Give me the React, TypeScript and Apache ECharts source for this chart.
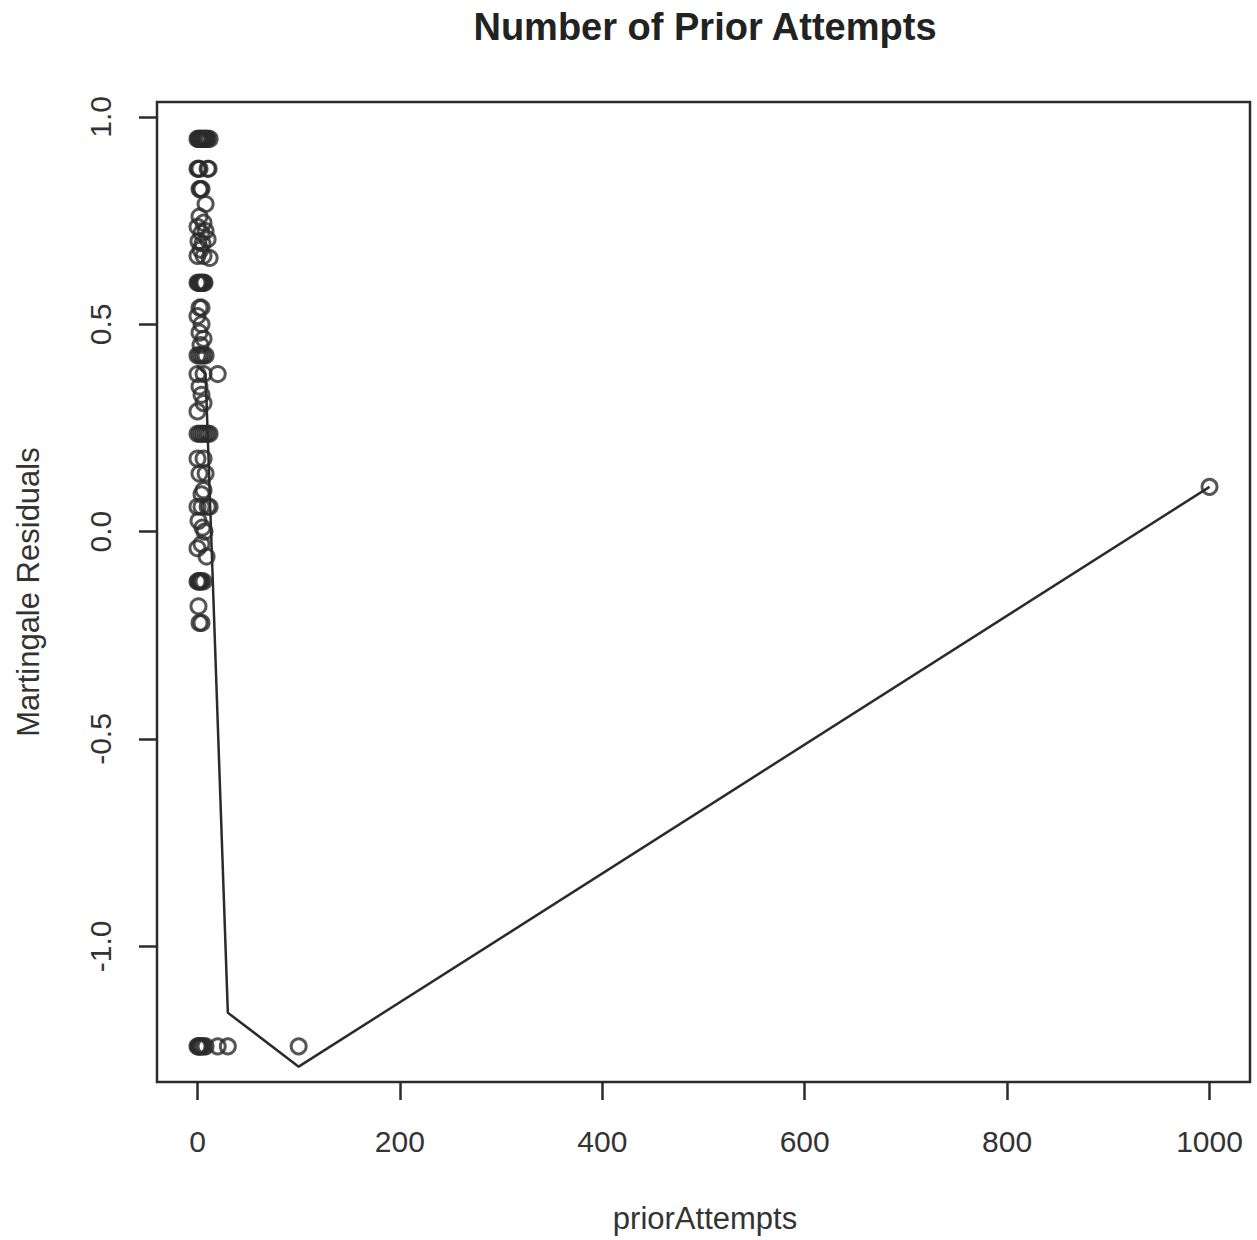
import React, { useEffect, useRef } from "react";
import * as echarts from "echarts";

const priorAttempts: number[] = [
  0, 1, 2, 3, 4, 5, 6, 7, 8, 9, 10, 12,
  0, 1, 2, 10, 11,
  2, 3, 4,
  8, 2, 6, 0, 8, 4, 10, 1, 5, 3, 0, 6, 12,
  0, 1, 2, 3, 4, 5, 6, 7,
  2, 4, 0, 4, 2, 6, 3,
  0, 2, 4, 6, 8,
  0, 6, 20,
  2, 4, 6, 0,
  0, 2, 4, 6, 8, 10, 12,
  0, 6, 2, 8, 6, 4,
  0, 4, 10, 12,
  1, 5, 7, 4, 0, 9,
  0, 1, 2, 3, 4, 6,
  1, 2, 4,
  0, 1, 2, 3, 4, 6, 8, 20, 30, 100,
  1000,
];

const residuals: number[] = [
  0.947, 0.947, 0.947, 0.947, 0.947, 0.947, 0.947, 0.947, 0.947, 0.947, 0.947, 0.947,
  0.875, 0.875, 0.875, 0.875, 0.875,
  0.826, 0.826, 0.826,
  0.79, 0.76, 0.745, 0.735, 0.725, 0.72, 0.705, 0.70, 0.695, 0.68, 0.665, 0.665, 0.66,
  0.60, 0.60, 0.60, 0.60, 0.60, 0.60, 0.60, 0.60,
  0.54, 0.54, 0.52, 0.50, 0.48, 0.465, 0.45,
  0.425, 0.425, 0.425, 0.425, 0.425,
  0.38, 0.38, 0.38,
  0.35, 0.33, 0.31, 0.29,
  0.236, 0.236, 0.236, 0.236, 0.236, 0.236, 0.236,
  0.176, 0.176, 0.14, 0.14, 0.10, 0.09,
  0.06, 0.06, 0.06, 0.06,
  0.026, 0.01, 0.0, -0.03, -0.04, -0.06,
  -0.12, -0.12, -0.12, -0.12, -0.12, -0.12,
  -0.18, -0.22, -0.22,
  -1.241, -1.241, -1.241, -1.241, -1.241, -1.241, -1.241, -1.241, -1.241, -1.241,
  0.108,
];

const smoothX: number[] = [0, 8, 30, 100, 1000];
const smoothY: number[] = [0.40, 0.38, -1.16, -1.29, 0.108];

const xTicks: number[] = [0, 200, 400, 600, 800, 1000];
const yTicks: number[] = [-1.0, -0.5, 0.0, 0.5, 1.0];

const titleText = "Number of Prior Attempts";
const xLabel = "priorAttempts";
const yLabel = "Martingale Residuals";

const INK = "#2b2b2b";
const FONT = "'Liberation Sans', Arial, sans-serif";

export default function App() {
  const ref = useRef<HTMLDivElement>(null);
  useEffect(() => {
    if (!ref.current) return;
    const chart = echarts.init(ref.current, undefined, { renderer: "svg" });
    const points = priorAttempts.map((x, i) => [x, residuals[i]]);
    const line = smoothX.map((x, i) => [x, smoothY[i]]);
    chart.setOption({
      animation: false,
      backgroundColor: "#ffffff",
      grid: {
        left: 157,
        top: 102,
        width: 1093,
        height: 980,
        show: true,
        borderColor: INK,
        borderWidth: 2.5,
        backgroundColor: "transparent",
      },
      xAxis: {
        type: "value",
        min: -40,
        max: 1040,
        axisLine: { show: false, onZero: false },
        splitLine: { show: false },
        axisTick: {
          show: true,
          length: 18,
          customValues: xTicks,
          lineStyle: { color: INK, width: 2.5 },
        },
        axisLabel: {
          customValues: xTicks,
          fontSize: 30,
          fontFamily: FONT,
          color: "#333",
          margin: 44,
          formatter: (v: number) => String(v),
        },
      },
      yAxis: {
        type: "value",
        min: -1.327,
        max: 1.036,
        axisLine: { show: false, onZero: false },
        splitLine: { show: false },
        axisTick: {
          show: true,
          length: 18,
          customValues: yTicks,
          lineStyle: { color: INK, width: 2.5 },
        },
        axisLabel: {
          customValues: yTicks,
          rotate: 90,
          fontSize: 30,
          fontFamily: FONT,
          color: "#333",
          margin: 42,
          formatter: (v: number) => v.toFixed(1),
        },
      },
      graphic: [
        {
          type: "text",
          x: 705,
          y: 27,
          style: {
            text: titleText,
            font: `bold 38px ${FONT}`,
            fill: "#222",
            textAlign: "center",
            textVerticalAlign: "middle",
          },
        },
        {
          type: "text",
          x: 705,
          y: 1218,
          style: {
            text: xLabel,
            font: `31px ${FONT}`,
            fill: "#333",
            textAlign: "center",
            textVerticalAlign: "middle",
          },
        },
        {
          type: "text",
          x: 28,
          y: 592,
          rotation: Math.PI / 2,
          style: {
            text: yLabel,
            font: `31px ${FONT}`,
            fill: "#333",
            textAlign: "center",
            textVerticalAlign: "middle",
          },
        },
      ],
      series: [
        {
          type: "scatter",
          data: points,
          symbol: "circle",
          symbolSize: 15,
          itemStyle: { color: "transparent", borderColor: INK, borderWidth: 3 },
          emphasis: { disabled: true },
        },
        {
          type: "line",
          data: line,
          showSymbol: false,
          lineStyle: { color: INK, width: 2.5 },
          emphasis: { disabled: true },
        },
      ],
    });
    return () => chart.dispose();
  }, []);
  return (
    <div
      ref={ref}
      style={{ position: "absolute", left: 0, top: 0, width: 1257, height: 1240 }}
    />
  );
}
